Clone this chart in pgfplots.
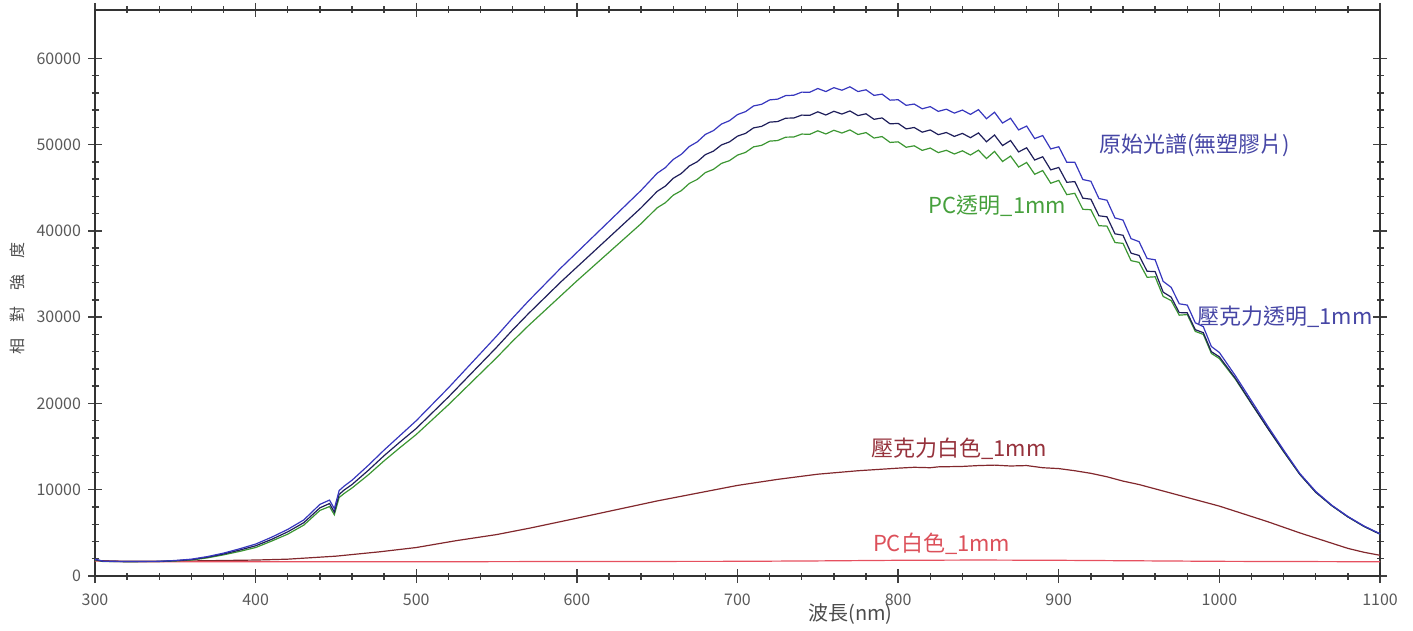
\documentclass[border=0pt]{standalone}
\usepackage{fontspec}
\setmainfont{Noto Sans CJK TC}
\usepackage{pgfplots}
\pgfplotsset{compat=1.18}

\definecolor{origblue}{RGB}{55,55,190}
\definecolor{acrnavy}{RGB}{30,30,90}
\definecolor{pcgreen}{RGB}{60,150,50}
\definecolor{acrwhite}{RGB}{130,40,45}
\definecolor{pcwhite}{RGB}{230,80,95}
\definecolor{lblblue}{RGB}{70,70,165}
\definecolor{lblgreen}{RGB}{70,160,60}
\definecolor{lblbrown}{RGB}{150,50,60}
\definecolor{lblred}{RGB}{220,80,90}

\begin{document}
\begin{tikzpicture}
\begin{axis}[
    scale only axis,
    width=642.5pt, height=283pt,
    xmin=300, xmax=1100,
    ymin=0, ymax=65600,
    xtick={300,400,...,1100},
    ytick={0,10000,...,60000},
    minor x tick num=4, minor y tick num=4,
    tick align=center,
    major tick length=7pt, minor tick length=3.5pt,
    every tick/.style={line width=0.7pt, black!75},
    axis line style={line width=0.8pt, black!80},
    scaled y ticks=false,
    /pgf/number format/1000 sep={},
    /pgf/number format/assume math mode=true,
    ticklabel style={font=\fontsize{8}{9}\selectfont, text=black!65},
    xticklabel style={yshift=-2pt},
    xlabel={波長(nm)},
    ylabel={相\hspace{1em}對\hspace{1em}強\hspace{1em}度},
    xlabel style={font=\fontsize{10}{12}\selectfont, text=black!70,
        at={(axis description cs:0.588,-0.068)}, anchor=center},
    ylabel style={font=\fontsize{8}{9}\selectfont, text=black!70,
        at={(axis description cs:-0.06,0.49)}, anchor=center},
    clip=false,
  ]
  % 壓克力白色_1mm
  \addplot[color=acrwhite, line width=0.6pt] coordinates {
    (300,1800) (320,1700) (350,1720) (400,1850) (420,1950) (450,2300)
    (477,2800) (500,3300) (525,4100) (550,4800) (571,5560) (600,6700)
    (625,7700) (650,8700) (675,9600) (700,10500) (725,11200) (750,11800)
    (775,12200) (800,12500) (810,12600) (820,12550) (825,12650) (840,12700)
    (850,12800) (860,12850) (870,12750) (880,12800) (890,12550) (900,12450)
    (910,12200) (920,11900) (930,11500) (940,11000) (950,10600) (960,10100)
    (970,9600) (980,9100) (990,8600) (1000,8100) (1010,7500) (1020,6900)
    (1030,6300) (1040,5650) (1050,5000) (1060,4400) (1070,3800) (1080,3200)
    (1090,2750) (1100,2400)
  };
  % PC白色_1mm
  \addplot[color=pcwhite, line width=0.6pt] coordinates {
    (300,1750) (320,1650) (400,1650) (500,1650) (600,1680) (700,1700)
    (750,1750) (800,1820) (850,1850) (900,1820) (950,1760) (1000,1700)
    (1100,1650)
  };
  % PC透明_1mm
  \addplot[color=pcgreen, line width=0.6pt] coordinates {
    (300,1850) (305,1680) (320,1660) (340,1670) (350,1740) (360,1850)
    (370,2100) (380,2450) (390,2850) (400,3300) (410,4050) (420,4850)
    (430,5900) (440,7600) (446,8050) (449,7100) (452,9100) (455,9550)
    (460,10200) (470,11700) (480,13350) (490,14900) (500,16400) (510,18120)
    (520,19840) (530,21660) (540,23480) (550,25300) (560,27220) (570,29040)
    (580,30760) (590,32480) (600,34200) (610,35860) (620,37520) (630,39180)
    (640,40840)
    (650,42680) (655,43250) (660,44140) (665,44660) (670,45500) (675,45970)
    (680,46760) (685,47130) (690,47820) (695,48140) (700,48780) (705,49100)
    (710,49740) (715,49910) (720,50400) (725,50470) (730,50860) (735,50880)
    (740,51220) (745,51190) (750,51600) (755,51230) (760,51660) (765,51340)
    (770,51700) (775,51170) (780,51390) (785,50760) (790,50930) (795,50250)
    (800,50320) (805,49690) (810,49860) (815,49330) (820,49600) (825,49070)
    (830,49340) (835,48910) (840,49280) (845,48790) (850,49350) (855,48380)
    (860,49210) (865,48040) (870,48670) (875,47400) (880,47930) (885,46560)
    (890,46990) (895,45520) (900,45850) (905,44200) (910,44350) (915,42500)
    (920,42450) (925,40600) (930,40550) (935,38650) (940,38550) (945,36550)
    (950,36350) (955,34620) (960,34680) (965,32400) (970,31920) (975,30230)
    (980,30300) (985,28350) (990,28000) (995,25800) (1000,25200)
    (1010,22800) (1020,19950) (1030,17150) (1040,14400) (1050,11800)
    (1060,9700) (1070,8150) (1080,6850) (1090,5750) (1100,4850)
  };
  % 壓克力透明_1mm
  \addplot[color=acrnavy, line width=0.6pt] coordinates {
    (300,1900) (305,1700) (320,1670) (340,1690) (350,1770) (360,1900)
    (370,2180) (380,2550) (390,3000) (400,3500) (410,4250) (420,5120)
    (430,6180) (440,7900) (446,8400) (449,7400) (452,9450) (455,9950)
    (460,10600) (470,12220) (480,13950) (490,15550) (500,17100) (510,18920)
    (520,20740) (530,22660) (540,24580) (550,26500) (560,28520) (570,30440)
    (580,32260) (590,34080) (600,35800) (610,37520) (620,39240) (630,40960)
    (640,42680)
    (650,44580) (655,45180) (660,46100) (665,46650) (670,47520) (675,48020)
    (680,48840) (685,49240) (690,49960) (695,50310) (700,50980) (705,51300)
    (710,51940) (715,52110) (720,52600) (725,52670) (730,53060) (735,53080)
    (740,53420) (745,53390) (750,53800) (755,53430) (760,53860) (765,53540)
    (770,53900) (775,53360) (780,53570) (785,52930) (790,53090) (795,52400)
    (800,52460) (805,51820) (810,51980) (815,51440) (820,51700) (825,51150)
    (830,51400) (835,50950) (840,51300) (845,50800) (850,51350) (855,50330)
    (860,51110) (865,49890) (870,50470) (875,49150) (880,49630) (885,48210)
    (890,48590) (895,47070) (900,47350) (905,45630) (910,45710) (915,43790)
    (920,43670) (925,41750) (930,41630) (935,39660) (940,39490) (945,37420)
    (950,37150) (955,35320) (960,35280) (965,32900) (970,32320) (975,30530)
    (980,30500) (985,28550) (990,28200) (995,26000) (1000,25400)
    (1010,22900) (1020,20000) (1030,17150) (1040,14450) (1050,11800)
    (1060,9700) (1070,8150) (1080,6850) (1090,5750) (1100,4850)
  };
  % 原始光譜(無塑膠片)
  \addplot[color=origblue, line width=0.6pt] coordinates {
    (300,1950) (305,1720) (320,1680) (340,1700) (350,1800) (360,1950)
    (370,2250) (380,2650) (390,3150) (400,3700) (410,4500) (420,5400)
    (430,6500) (440,8300) (446,8800) (449,7800) (452,9900) (455,10400)
    (460,11100) (470,12800) (480,14600) (490,16300) (500,18000) (510,19900)
    (520,21800) (530,23800) (540,25800) (550,27800) (560,29900) (570,31900)
    (580,33800) (590,35700) (600,37500) (610,39300) (620,41100) (630,42900)
    (640,44700)
    (650,46680) (655,47320) (660,48280) (665,48870) (670,49780) (675,50320)
    (680,51180) (685,51620) (690,52380) (695,52770) (700,53480) (705,53820)
    (710,54480) (715,54670) (720,55180) (725,55270) (730,55680) (735,55720)
    (740,56080) (745,56070) (750,56500) (755,56150) (760,56600) (765,56300)
    (770,56700) (775,56150) (780,56350) (785,55700) (790,55850) (795,55150)
    (800,55200) (805,54550) (810,54700) (815,54150) (820,54400) (825,53850)
    (830,54100) (835,53650) (840,54000) (845,53500) (850,54050) (855,53000)
    (860,53750) (865,52500) (870,53050) (875,51700) (880,52150) (885,50700)
    (890,51050) (895,49500) (900,49750) (905,47950) (910,47950) (915,45950)
    (920,45750) (925,43750) (930,43550) (935,41500) (940,41250) (945,39100)
    (950,38750) (955,36800) (960,36650) (965,34150) (970,33450) (975,31550)
    (980,31400) (985,29350) (990,28900) (995,26600) (1000,25900)
    (1010,23200) (1020,20300) (1030,17400) (1040,14600) (1050,11900)
    (1060,9800) (1070,8200) (1080,6900) (1090,5800) (1100,4900)
  };
  % series labels
  \node[font=\fontsize{11}{12}\selectfont, text=lblblue] at (axis cs:984.8,49940) {原始光譜(無塑膠片)};
  \node[font=\fontsize{11}{12}\selectfont, text=lblblue] at (axis cs:1040.9,30040) {壓克力透明\_1mm};
  \node[font=\fontsize{11}{12}\selectfont, text=lblgreen] at (axis cs:861.9,42870) {PC透明\_1mm};
  \node[font=\fontsize{11}{12}\selectfont, text=lblbrown] at (axis cs:837.9,14800) {壓克力白色\_1mm};
  \node[font=\fontsize{11}{12}\selectfont, text=lblred] at (axis cs:827.1,3790) {PC白色\_1mm};
\end{axis}
\pgfresetboundingbox
\path ([xshift=-47.5pt,yshift=-27pt]current axis.south west) rectangle ([xshift=16.5pt,yshift=5pt]current axis.north east);
\end{tikzpicture}
\end{document}
